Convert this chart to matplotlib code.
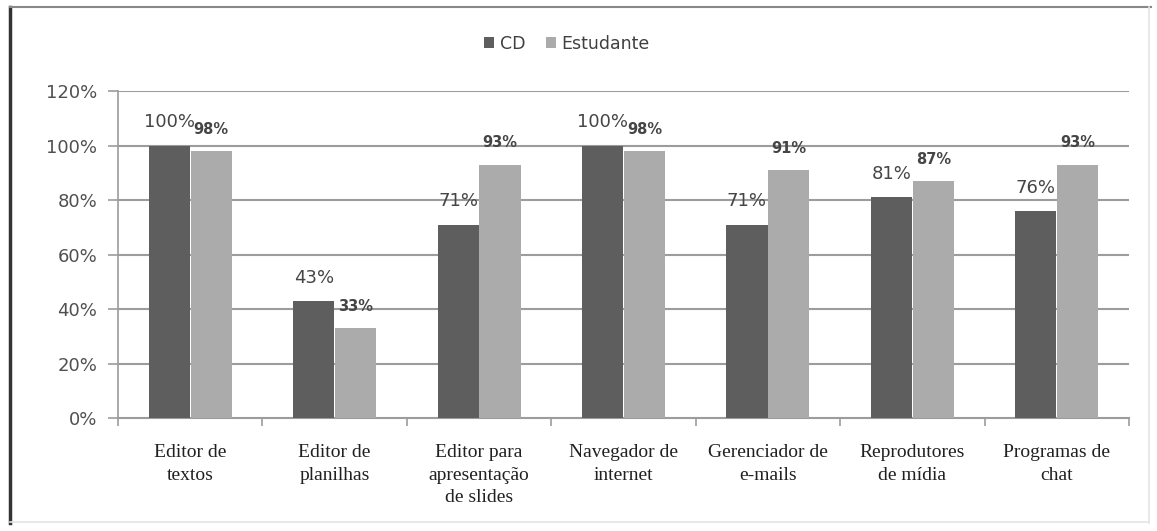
import numpy as np
import matplotlib.pyplot as plt
from matplotlib.lines import Line2D

categories = ['Editor de\ntextos', 'Editor de\nplanilhas', 'Editor para\napresentação\nde slides',
              'Navegador de\ninternet', 'Gerenciador de\ne-mails', 'Reprodutores\nde mídia',
              'Programas de\nchat']
cd = [100, 43, 71, 100, 71, 81, 76]
estudante = [98, 33, 93, 98, 91, 87, 93]
yticks = [0, 20, 40, 60, 80, 100, 120]

dark = '#5e5e5e'
light = '#ababab'
grid = '#9c9c9c'

fig = plt.figure(figsize=(11.57, 5.31), dpi=100)
ax = fig.add_axes([0.102, 0.2128, 0.8738, 0.6158])

x = np.arange(len(categories))
w = 0.285
ax.bar(x - 0.145, cd, w, color=dark, label='CD', zorder=3)
ax.bar(x + 0.145, estudante, w, color=light, label='Estudante', zorder=3)

# data labels
for xi, v in zip(x, cd):
    ax.text(xi - 0.145, v + 8.5, f'{v}%', ha='center', va='center',
            fontsize=13, color='#454545')
for xi, v in zip(x, estudante):
    ax.text(xi + 0.145, v + 8, f'{v}%', ha='center', va='center',
            fontsize=10.5, fontweight='bold', color='#454545')

ax.set_xlim(-0.5, len(categories) - 0.5)
ax.set_ylim(0, 120)
ax.set_yticks(yticks)
ax.set_yticklabels([f'{t}%' for t in yticks], fontsize=13, color='#505050')
for t in yticks[1:]:
    ax.axhline(t, color=grid, lw=1.5, zorder=1)

ax.set_xticks(x)
ax.set_xticklabels(categories, fontsize=14, family='Liberation Serif',
                   linespacing=1.4, va='top', color='#202020')
ax.set_xticks(np.arange(-0.5, len(categories)), minor=True)
ax.tick_params(axis='x', which='major', length=0, pad=19)
ax.tick_params(axis='x', which='minor', length=6, color=grid, width=1.2)
ax.tick_params(axis='y', length=7, color=grid, width=1.2, pad=8)

for s in ['top', 'right']:
    ax.spines[s].set_visible(False)
ax.spines['left'].set_color(grid)
ax.spines['bottom'].set_color(grid)
ax.spines['left'].set_linewidth(1.2)
ax.spines['bottom'].set_linewidth(1.5)

fig.legend(loc='center', bbox_to_anchor=(0.49, 0.918), ncol=2, frameon=False,
           fontsize=12.5, handlelength=0.6, handleheight=0.6, handletextpad=0.3,
           columnspacing=1.2, labelcolor='#404040')

# outer frame
fig.add_artist(Line2D([0.0085, 0.0085], [0.015, 0.987], color='#333333', lw=2.5,
                      transform=fig.transFigure))
fig.add_artist(Line2D([0.0085, 0.995], [0.987, 0.987], color='#888888', lw=1.5,
                      transform=fig.transFigure))
fig.add_artist(Line2D([0.993, 0.993], [0.015, 0.987], color='#e4e4e4', lw=1.2,
                      transform=fig.transFigure))
fig.add_artist(Line2D([0.0085, 0.993], [0.017, 0.017], color='#e4e4e4', lw=1.2,
                      transform=fig.transFigure))

fig.savefig('out.png', dpi=100)
